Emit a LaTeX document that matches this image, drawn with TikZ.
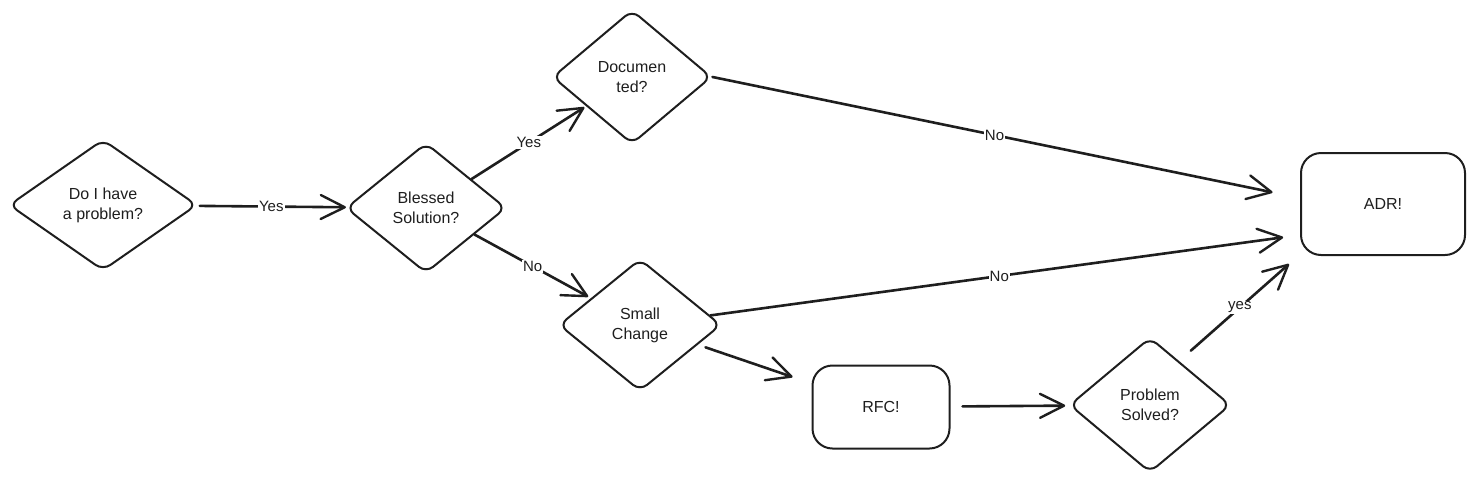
\documentclass[tikz,border=0pt]{standalone}
\usepackage{fontspec}
\setmainfont{Liberation Sans}
\usetikzlibrary{shapes.geometric,arrows.meta,calc}
\definecolor{ink}{HTML}{1E1E1E}
\begin{document}
\begin{tikzpicture}[x=1pt,y=-1pt,
  dec/.style={diamond, draw=ink, line width=2pt, rounded corners=9pt, inner sep=0pt, align=center, font=\fontsize{16}{20}\selectfont, text=ink},
  term/.style={rectangle, draw=ink, line width=2pt, rounded corners=20pt, inner sep=0pt, align=center, font=\fontsize{16}{20}\selectfont, text=ink},
  arr/.style={draw=ink, line width=2.6pt, line cap=round, -{Straight Barb[length=24pt,width=24pt,line width=2.4pt,round]}},
  lbl/.style={fill=white, inner sep=1pt, font=\fontsize{15}{17}\selectfont, text=ink}
]
\useasboundingbox (0,0) rectangle (1474,480);

\node[dec, minimum width=188pt, minimum height=131pt] (d1) at (103,205) {Do I have\\a problem?};
\node[dec, minimum width=160pt, minimum height=130pt] (d2) at (426,208) {Blessed\\Solution?};
\node[dec, minimum width=159pt, minimum height=134pt] (d3) at (632,77) {Documen\\ted?};
\node[dec, minimum width=162pt, minimum height=132pt] (d4) at (640,325) {Small\\Change};
\node[term, minimum width=137pt, minimum height=83pt] (rfc) at (881,407) {RFC!};
\node[dec, minimum width=161pt, minimum height=135pt] (d6) at (1150,405) {Problem\\Solved?};
\node[term, minimum width=164pt, minimum height=102pt] (adr) at (1383,204) {ADR!};

\draw[arr, shorten <=3pt, shorten >=0pt] (d1) -- node[lbl]{Yes} (d2);
\draw[arr, shorten >=2pt] (d2) -- node[lbl]{Yes} (d3);
\draw[arr, shorten >=3pt] (d2) -- node[lbl]{No} (d4);
\draw[arr, shorten >=28pt] (d3.east) -- node[lbl, pos=0.48]{No} ($(adr.west)+(0,-6)$);
\draw[arr, shorten >=17pt] (d4) -- node[lbl, pos=0.49]{No} ($(adr.west)+(0,31)$);
\draw[arr, shorten <=8pt, shorten >=20pt] (d4) -- (rfc);
\draw[arr, shorten <=12pt, shorten >=4pt] (rfc) -- (d6);
\draw[arr] ($($(d6.east)!0.5!(d6.north)$)+(0,-20)$) -- node[lbl]{yes} ($(adr.south west)+(-11,8)$);
\end{tikzpicture}
\end{document}
